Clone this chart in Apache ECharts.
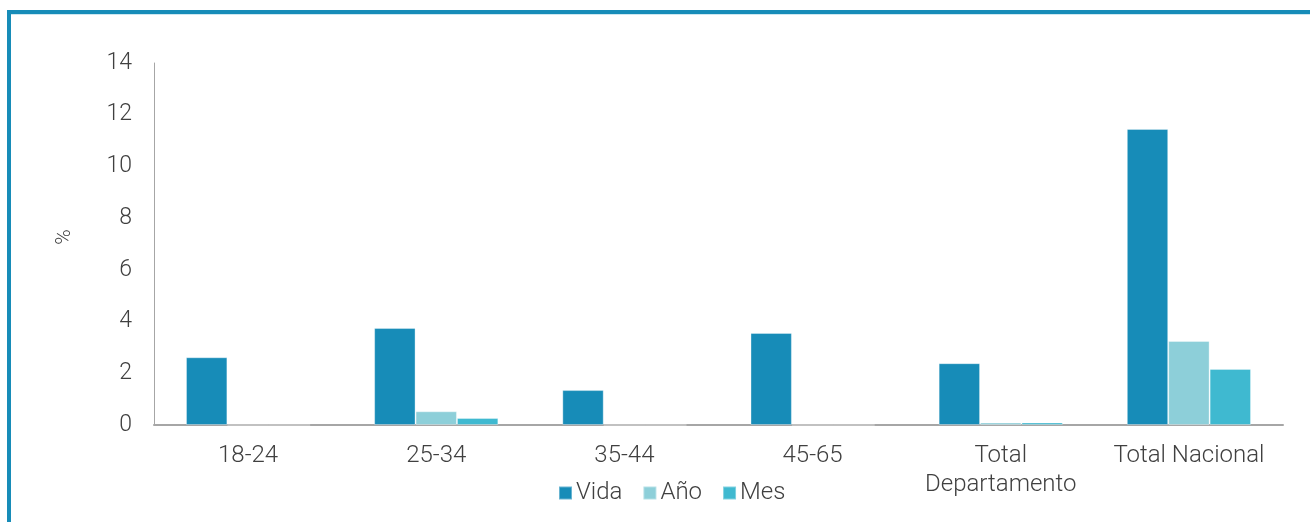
<!DOCTYPE html>
<html>
<head>
<meta charset="utf-8">
<script src="https://cdn.jsdelivr.net/npm/echarts@6/dist/echarts.min.js"></script>
<style>
html,body{margin:0;padding:0;background:#fff;}
#c{width:1310px;height:522px;}
</style>
</head>
<body>
<div id="c"></div>
<script>
const categories = ['18-24', '25-34', '35-44', '45-65', 'Total\nDepartamento', 'Total Nacional'];
const vida = [2.62, 3.75, 1.35, 3.56, 2.39, 11.45];
const anio = [0, 0.53, 0, 0, 0.1, 3.25];
const mes = [0, 0.27, 0, 0, 0.1, 2.17];
const seriesNames = ['Vida', 'Año', 'Mes'];
const yAxisName = '%';
const colors = ['#178cb8', '#8dcfd9', '#3fb9d0'];

const chart = echarts.init(document.getElementById('c'), null, {renderer: 'canvas'});
const font = 'Roboto';
const textColor = '#404040';
const mk = (name, data, color) => ({
  name, type: 'bar', data, barGap: '0%', barCategoryGap: '34%',
  itemStyle: {color, borderColor: 'rgba(255,255,255,0.35)', borderWidth: 1},
  emphasis: {disabled: true}
});
chart.setOption({
  animation: false,
  textStyle: {fontFamily: font},
  graphic: [
    {type: 'rect', shape: {x: 7, y: 10, width: 1303, height: 4}, style: {fill: '#178cb8'}},
    {type: 'rect', shape: {x: 7, y: 14, width: 1303, height: 1}, style: {fill: '#cde7f0'}},
    {type: 'rect', shape: {x: 7, y: 10, width: 4, height: 512}, style: {fill: '#178cb8'}},
    {type: 'text', x: 65, y: 237, rotation: Math.PI / 2,
     style: {text: yAxisName, fill: textColor, font: '300 21px Roboto', align: 'center', verticalAlign: 'middle'}}
  ],
  grid: {left: 154, right: 27, top: 63, bottom: 97, containLabel: false},
  legend: {
    data: seriesNames, left: 553, top: 476,
    itemWidth: 13, itemHeight: 13, itemGap: 20, icon: 'rect',
    textStyle: {fontFamily: font, fontSize: 24, fontWeight: 300, color: textColor, padding: [0, 0, 0, -1]}
  },
  xAxis: {
    type: 'category', data: categories,
    axisLine: {lineStyle: {color: '#a6a6a6', width: 2}},
    axisTick: {show: false},
    axisLabel: {fontFamily: font, fontSize: 24, fontWeight: 300, color: textColor, margin: 16, lineHeight: 29, interval: 0}
  },
  yAxis: {
    type: 'value', min: 0, max: 14, interval: 2,
    axisLine: {show: true, lineStyle: {color: '#a6a6a6', width: 1}},
    axisTick: {show: false},
    splitLine: {show: false},
    axisLabel: {fontFamily: font, fontSize: 23, fontWeight: 300, color: textColor, margin: 22}
  },
  series: [mk(seriesNames[0], vida, colors[0]), mk(seriesNames[1], anio, colors[1]), mk(seriesNames[2], mes, colors[2])]
});
</script>
</body>
</html>
